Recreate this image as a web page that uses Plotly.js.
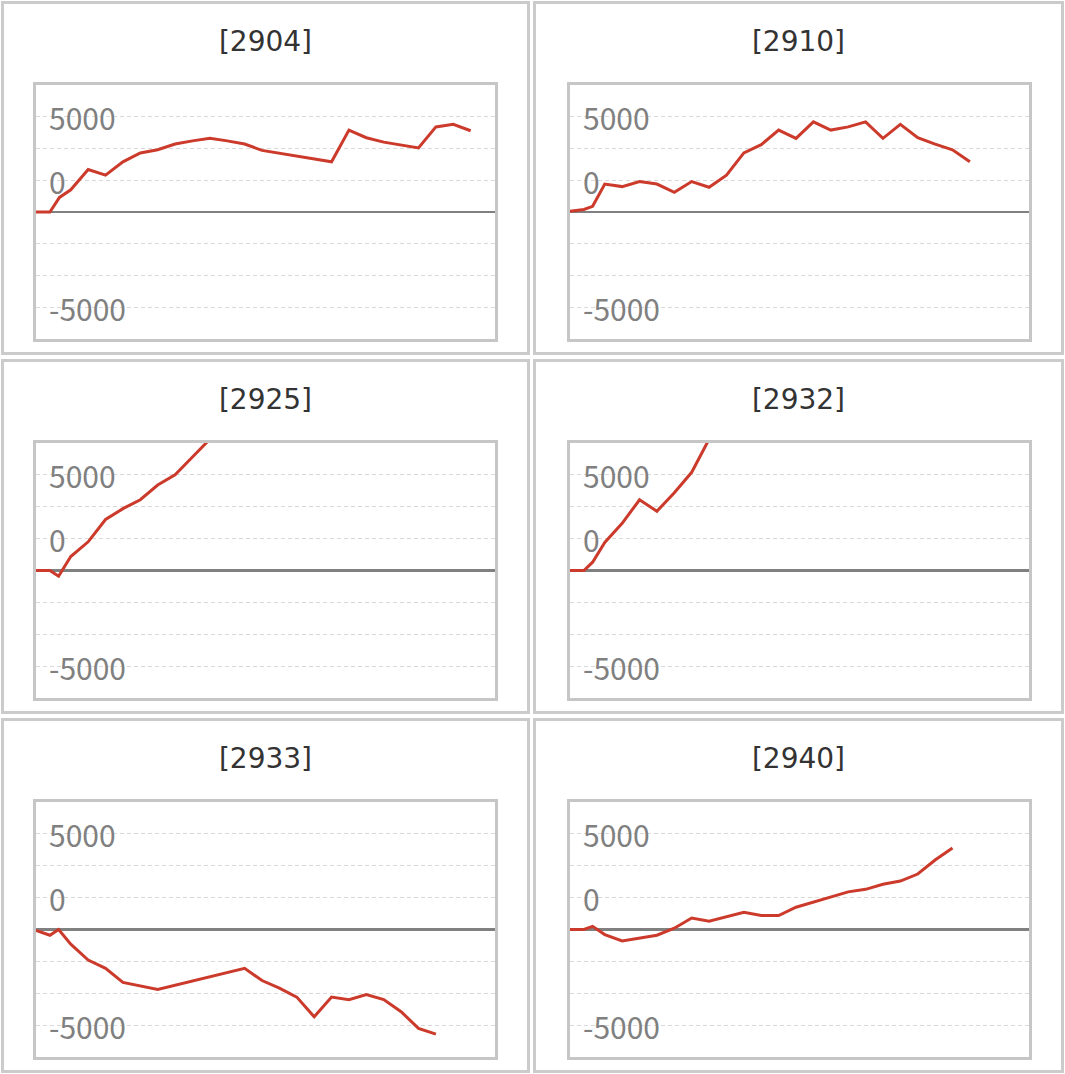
<!DOCTYPE html>
<html>
<head>
<meta charset="utf-8">
<script src="https://cdn.plot.ly/plotly-3.0.1.min.js"></script>
<style>
  body { margin: 0; background: #fff; }
  .card {
    position: absolute;
    box-sizing: border-box;
    border: 3px solid #cbcbcb;
  }
</style>
</head>
<body>
<div id="cards"></div>
<script>
const WRAPPER = document.getElementById("cards");
const RED = "#cb3a2b";
const LABEL_FONT = "'Noto Sans CJK JP', 'Noto Sans', sans-serif";
const TITLE_FONT = "'DejaVu Sans', sans-serif";

const codes = ["[2904]", "[2910]", "[2925]", "[2932]", "[2933]", "[2940]"];

// odd labels on purpose: the source chart prints them one gridline off
const tickValues = [7500, 2500, -7500];
const tickLabels = ["5000", "0", "-5000"];

const days2904 = [0, 0.8, 1.35, 2, 3, 4, 5, 6, 7, 8, 9, 10, 11, 12, 13, 17, 18, 19, 20, 22, 23, 24, 25];
const pnl2904 = [0, 0, 1150, 1750, 3350, 2900, 3950, 4650, 4900, 5350, 5600, 5800, 5600, 5350, 4850, 3950, 6450, 5850, 5500, 5050, 6700, 6900, 6400];

const days2910 = [0, 0.8, 1.3, 2, 3, 4, 5, 6, 7, 8, 9, 10, 11, 12, 13, 14, 15, 16, 17, 18, 19, 20, 21, 22, 23];
const pnl2910 = [50, 200, 450, 2200, 2000, 2400, 2200, 1550, 2400, 1950, 2900, 4650, 5300, 6450, 5800, 7100, 6450, 6700, 7100, 5800, 6900, 5850, 5350, 4900, 3950];

const days2925 = [0, 0.8, 1.3, 2, 3, 4, 5, 6, 7, 8, 9, 10];
const pnl2925 = [0, 0, -450, 1100, 2250, 4000, 4850, 5550, 6700, 7500, 8900, 10300];

const days2932 = [0, 0.8, 1.3, 2, 3, 4, 5, 6, 7, 8];
const pnl2932 = [0, 0, 650, 2200, 3700, 5550, 4650, 6100, 7700, 10300];

const days2933 = [0, 0.8, 1.3, 2, 3, 4, 5, 7, 12, 13, 14, 15, 16, 17, 18, 19, 20, 21, 22, 23];
const pnl2933 = [-80, -450, 0, -1150, -2400, -3050, -4150, -4700, -3050, -4000, -4600, -5300, -6850, -5300, -5500, -5100, -5500, -6450, -7750, -8200];

const days2940 = [0, 0.8, 1.3, 2, 3, 4, 5, 6, 7, 8, 9, 10, 11, 12, 13, 14, 15, 16, 17, 18, 19, 20, 21, 22];
const pnl2940 = [0, 0, 250, -400, -900, -650, -450, 100, 900, 650, 1000, 1350, 1100, 1100, 1750, 2150, 2600, 2950, 3150, 3550, 3800, 4350, 5450, 6400];

const series = [
  [days2904, pnl2904],
  [days2910, pnl2910],
  [days2925, pnl2925],
  [days2932, pnl2932],
  [days2933, pnl2933],
  [days2940, pnl2940],
];

const COLS = [
  { left: 1, width: 529, plotLeft: 32 },
  { left: 533, width: 531, plotLeft: 34 },
];
const ROWS = [
  { top: 1, height: 354 },
  { top: 359, height: 355 },
  { top: 718, height: 355 },
];

function addCard(code, [days, pnl], index) {
  const col = COLS[index % 2];
  const row = ROWS[Math.floor(index / 2)];
  const card = document.createElement("div");
  const plot = document.createElement("div");

  card.className = "card";
  card.style.left = `${col.left}px`;
  card.style.top = `${row.top}px`;
  card.style.width = `${col.width}px`;
  card.style.height = `${row.height}px`;
  card.appendChild(plot);
  WRAPPER.appendChild(card);

  const height = row.height - 6;
  const grid = { showgrid: true, gridcolor: "#d9d9d9", gridwidth: 1, griddash: "4px,3px" };

  Plotly.newPlot(
    plot,
    [{ type: "scatter", mode: "lines", x: days, y: pnl, line: { color: RED, width: 3 }, hoverinfo: "skip" }],
    {
      width: col.width - 6,
      height,
      margin: { l: col.plotLeft, r: 32, t: 81, b: 13, pad: 0 },
      paper_bgcolor: "#fff",
      plot_bgcolor: "#fff",
      showlegend: false,
      hovermode: false,
      title: {
        text: code,
        x: 0.5,
        xref: "container",
        xanchor: "center",
        y: 1 - 37 / height,
        yref: "container",
        yanchor: "middle",
        font: { family: TITLE_FONT, size: 28, color: "#333" },
      },
      xaxis: {
        range: [0, 26.4],
        showgrid: false,
        zeroline: false,
        showticklabels: false,
        ticks: "",
        showline: true,
        mirror: true,
        linecolor: "#c6c6c6",
        linewidth: 3,
      },
      yaxis: {
        range: [-10000, 10000],
        tickvals: tickValues,
        ticktext: tickLabels,
        ticks: "",
        ticklabelposition: "inside",
        ticklabelstandoff: 16,
        ticklabelshift: 3,
        tickfont: { family: LABEL_FONT, size: 30, color: "#808080" },
        ...grid,
        minor: { tickmode: "linear", tick0: 0, dtick: 2500, ticks: "", ...grid },
        zeroline: true,
        zerolinecolor: "#808080",
        zerolinewidth: 2.5,
        showline: true,
        mirror: true,
        linecolor: "#c6c6c6",
        linewidth: 3,
      },
    },
    { displayModeBar: false, staticPlot: true }
  );
}

codes.forEach((code, i) => addCard(code, series[i], i));
</script>
</body>
</html>
